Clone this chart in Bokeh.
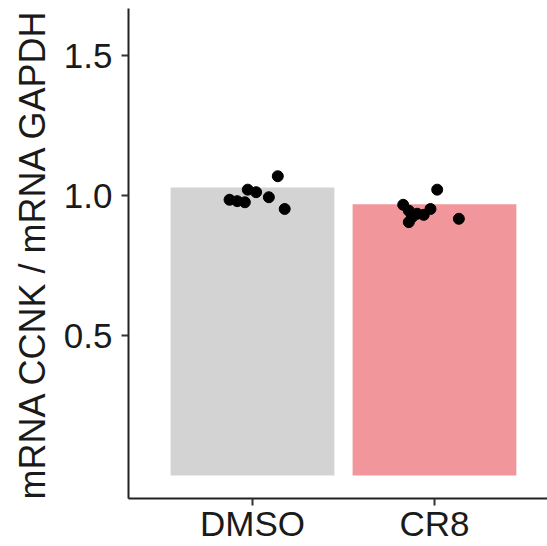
from bokeh.plotting import figure
from bokeh.models import FixedTicker, Range1d
from bokeh.embed import file_html
from bokeh.resources import INLINE

# ---- data ----
categories = ["DMSO", "CR8"]
cat_pos = [1, 2]
bar_means = [1.029, 0.969]
bar_colors = ["#D3D3D3", "#F1979B"]

dmso_x = [1.139, 0.874, 0.916, 0.958, 0.974, 1.020, 1.090, 1.177]
dmso_y = [1.069, 0.985, 0.980, 0.976, 1.021, 1.012, 0.994, 0.952]
cr8_x = [2.015, 1.828, 1.859, 1.877, 1.905, 1.941, 1.978, 2.134, 1.859]
cr8_y = [1.021, 0.967, 0.946, 0.923, 0.935, 0.931, 0.952, 0.917, 0.905]

y_ticks = [0.5, 1.0, 1.5]
y_tick_labels = ["0.5", "1.0", "1.5"]
y_title = "mRNA CCNK / mRNA GAPDH"

FONT = "Liberation Sans"

p = figure(width=547, height=546, output_backend="svg", toolbar_location=None,
           x_range=Range1d(0.3187, 2.621), y_range=Range1d(-0.082, 1.668),
           min_border_left=128, min_border_right=0, min_border_top=8,
           min_border_bottom=48)

p.vbar(x=cat_pos, top=bar_means, bottom=0, width=0.9, color=bar_colors, line_color=None)
p.scatter(dmso_x, dmso_y, size=11, color="black")
p.scatter(cr8_x, cr8_y, size=11, color="black")

p.grid.visible = False
p.outline_line_color = None
p.background_fill_color = "white"
p.border_fill_color = "white"

p.xaxis.ticker = FixedTicker(ticks=cat_pos)
p.xaxis.major_label_overrides = {c: n for c, n in zip(cat_pos, categories)}
p.yaxis.ticker = FixedTicker(ticks=y_ticks)
p.yaxis.major_label_overrides = {t: l for t, l in zip(y_ticks, y_tick_labels)}

for ax in (p.xaxis, p.yaxis):
    ax.axis_line_width = 2
    ax.axis_line_color = "#222222"
    ax.major_tick_line_width = 2
    ax.major_tick_line_color = "#333333"
    ax.major_tick_out = 7
    ax.major_tick_in = 0
    ax.minor_tick_out = 0
    ax.minor_tick_in = 0
    ax.major_label_text_font = FONT
    ax.major_label_text_font_size = "35px"
    ax.major_label_text_color = "#1a1a1a"

p.xaxis.major_label_text_line_height = 1.0
p.xaxis.major_label_standoff = -2
p.yaxis.major_label_standoff = 9
p.yaxis.axis_label = y_title
p.yaxis.axis_label_text_font = FONT
p.yaxis.axis_label_text_font_size = "36px"
p.yaxis.axis_label_text_font_style = "normal"
p.yaxis.axis_label_text_color = "#1a1a1a"
p.yaxis.axis_label_standoff = 8

open("out.html", "w").write(file_html(p, INLINE))
